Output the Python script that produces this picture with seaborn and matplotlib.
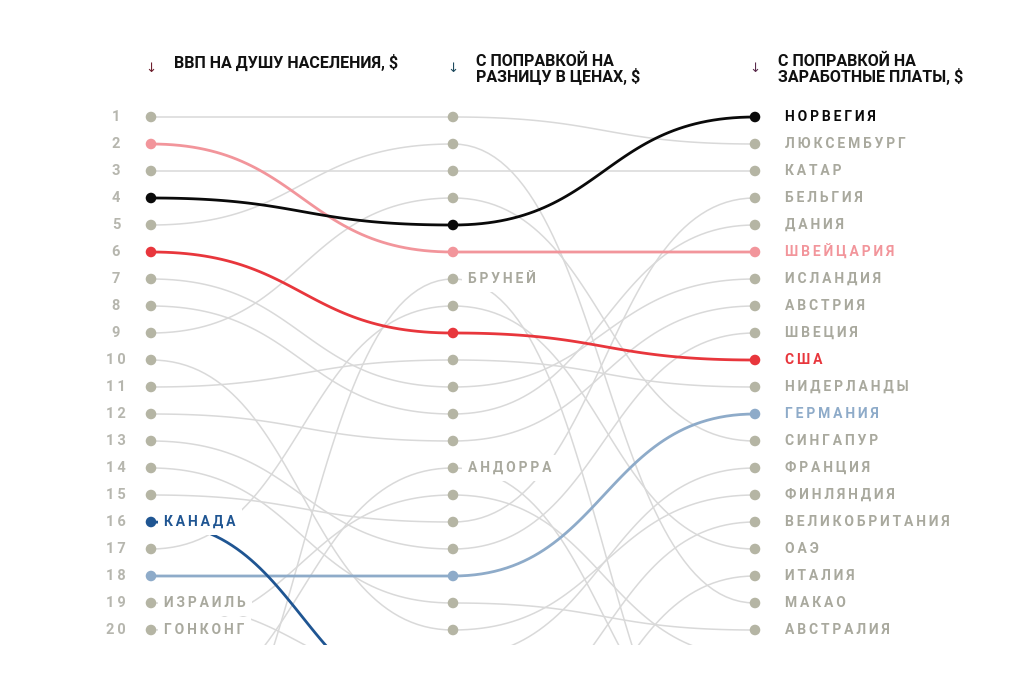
import numpy as np
import pandas as pd
import seaborn as sns
import matplotlib
matplotlib.use("Agg")
import matplotlib.pyplot as plt

# Данные: место страны в каждом из трёх рейтингов (больше 20 - за пределами графика)
countries = ["ЛЮКСЕМБУРГ", "ШВЕЙЦАРИЯ", "КАТАР", "НОРВЕГИЯ", "МАКАО", "США",
             "ИСЛАНДИЯ", "ДАНИЯ", "СИНГАПУР", "ФИНЛЯНДИЯ", "НИДЕРЛАНДЫ",
             "АВСТРИЯ", "ШВЕЦИЯ", "АВСТРАЛИЯ", "БЕЛЬГИЯ", "КАНАДА", "ОАЭ",
             "ГЕРМАНИЯ", "ИЗРАИЛЬ", "ГОНКОНГ", "ФРАНЦИЯ", "ВЕЛИКОБРИТАНИЯ",
             "АНДОРРА", "ИТАЛИЯ", "БРУНЕЙ"]
rank_gdp = [1, 2, 3, 4, 5, 6, 7, 8, 9, 10, 11, 12, 13, 14, 15, 16, 17, 18,
            19, 20, 21, 22, 23, 25, 27]
rank_ppp = [1, 6, 3, 5, 2, 9, 11, 12, 4, 20, 10, 13, 17, 19, 16, 23, 8, 18,
            22, 15, 21, 24, 14, 27, 7]
rank_wage = [2, 6, 3, 1, 19, 10, 7, 5, 13, 15, 11, 8, 9, 20, 4, 22, 17, 12,
             23, 21, 14, 16, 25, 18, 27]

headers = ["ВВП НА ДУШУ НАСЕЛЕНИЯ, $",
           "С ПОПРАВКОЙ НА\nРАЗНИЦУ В ЦЕНАХ, $",
           "С ПОПРАВКОЙ НА\nЗАРАБОТНЫЕ ПЛАТЫ, $"]
arrow_colors = ["#6e1f2d", "#1e4a5e", "#5a2b4c"]

# подписанные страны в левом и среднем столбцах
left_labels = ["КАНАДА", "ИЗРАИЛЬ", "ГОНКОНГ"]
mid_labels = ["БРУНЕЙ", "АНДОРРА"]

highlight = {"ГЕРМАНИЯ": "#8eabc9", "КАНАДА": "#1f5592", "США": "#e8363c",
             "ШВЕЙЦАРИЯ": "#f2959b", "НОРВЕГИЯ": "#0a0a0a"}
GRAY_LINE = "#d9d9d9"
GRAY_DOT = "#b5b5a4"
GRAY_TEXT = "#a9a99e"

sns.set_theme(style="white")
plt.rcParams["font.family"] = ["Roboto", "DejaVu Sans"]

PX_X = 302.0   # пикселей на столбец
PX_Y = 27.0    # пикселей на место


def spaced(s):
    return "\u2009".join(s)


def bump(x0, y0, x1, y1, n=60):
    t = np.linspace(0, 1, n)
    xm = (x0 + x1) / 2
    x = (1 - t) ** 3 * x0 + 3 * (1 - t) ** 2 * t * xm + 3 * (1 - t) * t ** 2 * xm + t ** 3 * x1
    y = (1 - t) ** 3 * y0 + 3 * (1 - t) ** 2 * t * y0 + 3 * (1 - t) * t ** 2 * y1 + t ** 3 * y1
    return x, y


rows = []
for c, a, b, w in zip(countries, rank_gdp, rank_ppp, rank_wage):
    ranks = [a, b, w]
    for i in range(2):
        xs, ys = bump(i, ranks[i], i + 1, ranks[i + 1])
        for k, (xx, yy) in enumerate(zip(xs, ys)):
            rows.append({"country": c, "order": i * 100 + k, "x": xx, "y": yy})
df = pd.DataFrame(rows)

dots = pd.DataFrame({
    "country": countries * 3,
    "x": [0] * len(countries) + [1] * len(countries) + [2] * len(countries),
    "y": rank_gdp + rank_ppp + rank_wage,
})
dots = dots[dots["y"] <= 20]

fig = plt.figure(figsize=(10.24, 6.82), dpi=100)
ax = fig.add_axes([100 / 1024, 37 / 682, 900 / 1024, 605 / 682])
ax.set_xlim((100 - 151) / PX_X, (1000 - 151) / PX_X)
ax.set_ylim(20 + 15 / PX_Y, 1 - 77 / PX_Y)
ax.axis("off")

gray = df[~df["country"].isin(highlight)]
sns.lineplot(data=gray, x="x", y="y", units="country", estimator=None, sort=False,
             color=GRAY_LINE, lw=1.1, ax=ax, zorder=1)
for c in ["ГЕРМАНИЯ", "КАНАДА", "США", "ШВЕЙЦАРИЯ", "НОРВЕГИЯ"]:
    sns.lineplot(data=df[df["country"] == c], x="x", y="y", estimator=None, sort=False,
                 color=highlight[c], lw=2.0, ax=ax, zorder=2)

dot_colors = [highlight.get(c, GRAY_DOT) for c in dots["country"]]
sns.scatterplot(data=dots, x="x", y="y", c=dot_colors, s=58, linewidth=0,
                ax=ax, zorder=4, legend=False)

# номера мест
for r in range(1, 21):
    ax.text((116 - 151) / PX_X, r, spaced(str(r)), ha="center", va="center",
            fontsize=10.5, fontweight="bold", color="#b6b6ae")

# заголовки
for i, h in enumerate(headers):
    ax.text(i, 1 - (117 - 68) / PX_Y, "↓", ha="center", va="center", fontsize=9.5,
            color=arrow_colors[i], family=["DejaVu Sans"])
    yc = 62.5 if "\n" not in h else 69.5
    ax.text(i + 23 / PX_X, 1 - (117 - yc) / PX_Y, h, ha="left", va="center",
            fontsize=11.5, fontweight="bold", color="#111111", linespacing=0.95)

label_style = dict(ha="left", va="center", fontsize=10, fontweight="bold", zorder=5,
                   bbox=dict(facecolor="white", edgecolor="none", pad=4.5))
for c, w in zip(countries, rank_wage):
    if w <= 20:
        ax.text(2 + 30 / PX_X, w, spaced(c), color=highlight.get(c, GRAY_TEXT), **label_style)
for c, a in zip(countries, rank_gdp):
    if c in left_labels:
        ax.text(13 / PX_X, a, spaced(c), color=highlight.get(c, GRAY_TEXT), **label_style)
for c, b in zip(countries, rank_ppp):
    if c in mid_labels:
        ax.text(1 + 15 / PX_X, b, spaced(c), color=highlight.get(c, GRAY_TEXT), **label_style)

fig.savefig("out.png", dpi=100, facecolor="white")
